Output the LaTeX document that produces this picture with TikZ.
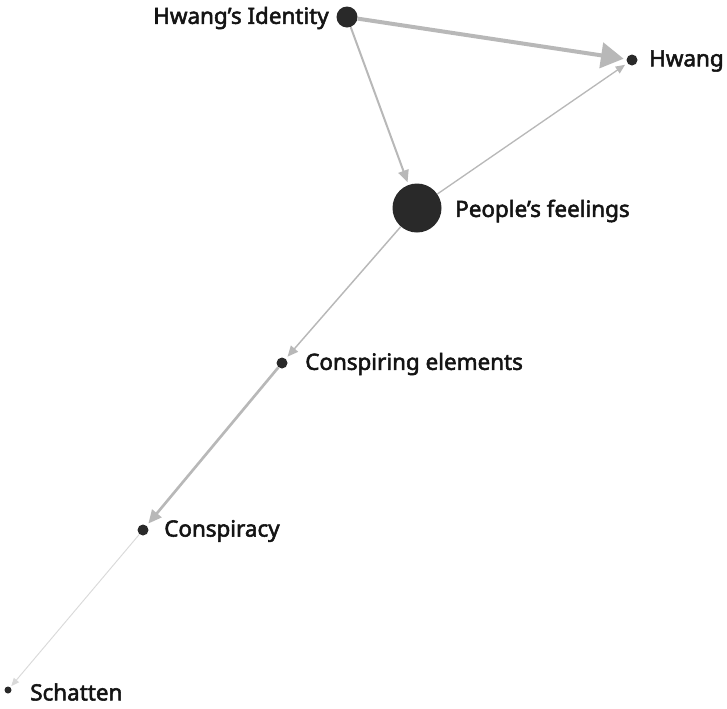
\documentclass[tikz,border=0pt]{standalone}
\usepackage{fontspec}
\setmainfont{Noto Sans}[FakeBold=2.4]
\usetikzlibrary{arrows.meta}
\begin{document}
\begin{tikzpicture}[x=0.75pt,y=-0.75pt,
  dot/.style={circle,fill=black!84,inner sep=0pt,minimum size=#1*0.75pt},
  lbl/.style={font=\fontsize{16.8pt}{19pt}\selectfont\bfseries,text=black!92,inner sep=0pt},
  link/.style={draw=black!28,line width=#1,shorten >=2pt},
]
\useasboundingbox (0,0) rectangle (727,708);
% nodes
\node[dot=21] (hi) at (347,17) {};
\node[dot=11] (hw) at (632,60) {};
\node[dot=49] (pf) at (417,208) {};
\node[dot=11] (ce) at (282,363) {};
\node[dot=11] (cs) at (143,530) {};
\node[dot=7]  (sc) at (8,690) {};
% labels
\node[lbl,anchor=east] at (329,18) {Hwang’s Identity};
\node[lbl,anchor=west] at (649,61) {Hwang};
\node[lbl,anchor=west] at (455,211) {People’s feelings};
\node[lbl,anchor=west] at (305,364) {Conspiring elements};
\node[lbl,anchor=west] at (164,531) {Conspiracy};
\node[lbl,anchor=west] at (30,692) {Schatten};
% connectors
\draw[link=3pt,-{Triangle[length=17pt,width=19pt]}] (hi) -- (hw);
\draw[link=1.5pt,-{Triangle[length=9pt,width=8pt]}] (hi) -- (pf);
\draw[link=1pt,-{Triangle[length=7pt,width=6pt]}] (pf) -- (hw);
\draw[link=1.1pt,-{Triangle[length=8pt,width=7pt]}] (pf) -- (ce);
\draw[link=2pt,-{Triangle[length=10pt,width=9pt]}] (ce) -- (cs);
\draw[draw=black!15,line width=0.7pt,shorten >=1pt,-{Triangle[length=6pt,width=5pt]}] (cs) -- (sc);
\end{tikzpicture}
\end{document}
